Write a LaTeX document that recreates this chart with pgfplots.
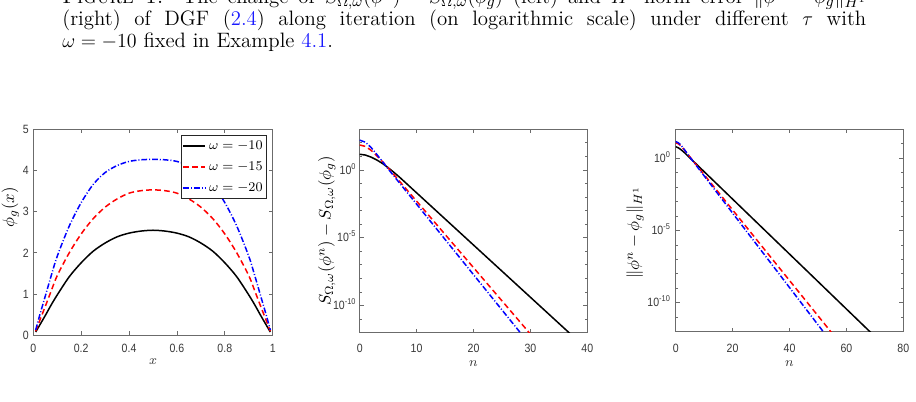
\documentclass[border=0pt]{standalone}
\usepackage{fontspec}
\usepackage{xcolor}
\usepackage{pgfplots}
\pgfplotsset{compat=1.18}
\newfontfamily\tickfont[FakeStretch=0.88]{Liberation Sans}
\definecolor{axgray}{gray}{0.42}
\definecolor{txtgray}{gray}{0.22}
\definecolor{linkblue}{rgb}{0.1,0.1,1}
\newcommand{\tp}[1]{10\textsuperscript{#1}}

\pgfplotsset{
  mstyle/.style={
    scale only axis,
    axis line style={axgray, line width=0.6pt},
    every tick/.style={axgray, line width=0.5pt},
    tick align=inside, tick pos=both,
    major tick length=2.4pt, minor tick length=1.6pt,
    tick label style={font=\tickfont\fontsize{7.2}{8}\selectfont, text=txtgray, inner sep=0pt},
    xticklabel style={anchor=center},
    yticklabel style={anchor=base east, yshift=-2.5pt},
    label style={text=txtgray, font=\fontsize{8.5}{10}\selectfont},
    every axis y label/.style={rotate=90, anchor=center},
  },
  lblack/.style={black, line width=0.9pt},
  lred/.style={red, line width=0.9pt, dash pattern=on 3.4pt off 2pt},
  lblue/.style={blue, line width=0.9pt, dash pattern=on 3.4pt off 1.2pt on 0.6pt off 1.2pt},
}

\begin{document}
\begin{tikzpicture}
\useasboundingbox (0,0) rectangle (549.6pt,241.2pt);

% caption lines above the figure
\node[anchor=base west, inner sep=0pt] at (37.2pt,239.3pt) {\parbox[t]{482.4pt}{\fontsize{12.5}{13.4}\selectfont
\textsc{Figure 1.} The change of $S_{\Omega,\omega}(\phi^n)-S_{\Omega,\omega}(\phi_g)$ (left) and $H^1$-norm error $\|\phi^n-\phi_g\|_{H^1}$\linebreak
(right) of DGF (\textcolor{linkblue}{2.4}) along iteration (on logarithmic scale) under different $\tau$ with\linebreak
$\omega=-10$ fixed in Example~\textcolor{linkblue}{4.1}.}};

% ground states
\begin{axis}[mstyle, at={(19.98pt,40.02pt)}, anchor=south west,
  width=143.64pt, height=123.6pt,
  xmin=0, xmax=1, ymin=0, ymax=5,
  xtick={0,0.2,0.4,0.6,0.8,1}, xticklabels={0,0.2,0.4,0.6,0.8,1},
  ytick={0,1,2,3,4,5}, yticklabels={0,1,2,3,4,5},
  xticklabel style={yshift=-7.6pt}, yticklabel style={xshift=-2.6pt},
  xlabel={$x$}, ylabel={$\phi_g(x)$},
  every axis x label/.append style={at={(axis description cs:0.5,-0.13)}, anchor=center},
  every axis y label/.append style={at={(axis description cs:-0.096,0.62)}},
  legend style={at={(0.977,0.972)}, anchor=north east, draw=black!85, fill=white,
    line width=0.5pt, font=\fontsize{8.5}{8.5}\selectfont, inner xsep=0.5pt, inner ysep=1pt,
    row sep=2pt, legend cell align=left},
  legend image code/.code={\draw[#1] (0pt,0pt) -- (13pt,0pt);},
]
\addplot[lblack, smooth, tension=0.5] coordinates {
(0.01,0.08)(0.025,0.23)(0.05,0.48)(0.075,0.74)(0.1,0.98)(0.15,1.42)(0.2,1.76)
(0.25,2.04)(0.3,2.24)(0.35,2.39)(0.4,2.48)(0.45,2.53)(0.5,2.55)(0.55,2.53)
(0.6,2.48)(0.65,2.39)(0.7,2.24)(0.75,2.04)(0.8,1.76)(0.85,1.42)(0.9,0.98)
(0.925,0.74)(0.95,0.48)(0.975,0.23)(0.99,0.08)};
\addplot[lred, smooth, tension=0.5] coordinates {
(0.01,0.10)(0.025,0.33)(0.05,0.70)(0.075,1.08)(0.1,1.45)(0.15,2.00)(0.2,2.46)
(0.25,2.83)(0.3,3.11)(0.35,3.31)(0.4,3.45)(0.45,3.51)(0.5,3.53)(0.55,3.51)
(0.6,3.45)(0.65,3.31)(0.7,3.11)(0.75,2.83)(0.8,2.46)(0.85,2.00)(0.9,1.45)
(0.925,1.08)(0.95,0.70)(0.975,0.33)(0.99,0.10)};
\addplot[lblue, smooth, tension=0.5] coordinates {
(0.01,0.13)(0.025,0.45)(0.05,0.95)(0.075,1.45)(0.1,1.92)(0.15,2.65)(0.2,3.22)
(0.25,3.66)(0.3,3.95)(0.35,4.12)(0.4,4.22)(0.45,4.26)(0.5,4.27)(0.55,4.26)
(0.6,4.22)(0.65,4.12)(0.7,3.95)(0.75,3.66)(0.8,3.22)(0.85,2.65)(0.9,1.92)
(0.925,1.45)(0.95,0.95)(0.975,0.45)(0.99,0.13)};
\legend{$\omega=-10$,$\omega=-15$,$\omega=-20$}
\end{axis}

% energy difference
\begin{axis}[mstyle, at={(215.82pt,41.58pt)}, anchor=south west,
  width=136.56pt, height=122.04pt,
  xmin=0, xmax=40, ymode=log, ymin=1e-12, ymax=1e3,
  xtick={0,10,20,30,40}, xticklabels={0,10,20,30,40},
  ytick={1e-10,1e-5,1}, yticklabels={\tp{-10},\tp{-5},\tp{0}},
  minor ytick={1e-12,1e-11,1e-9,1e-8,1e-7,1e-6,1e-4,1e-3,1e-2,1e-1,10,100,1000},
  xticklabel style={yshift=-9.2pt}, yticklabel style={xshift=-1.8pt},
  xlabel={$n$}, ylabel={$S_{\Omega,\omega}(\phi^n)-S_{\Omega,\omega}(\phi_g)$},
  every axis x label/.append style={at={(axis description cs:0.5,-0.154)}, anchor=center},
  every axis y label/.append style={at={(axis description cs:-0.145,0.5)}},
]
\addplot[lblack] coordinates {
(0,14.45)(1,12.59)(2,8.91)(3,5.50)(4,3.02)(5,1.479)(6,0.676)(7,0.295)
(12,3.51e-3)(17,4.17e-5)(22,4.95e-7)(27,5.89e-9)(32,7.0e-11)(37,8.3e-13)};
\addplot[lred] coordinates {
(0,69.2)(1,55.0)(2,28.2)(3,11.2)(4,4.17)(5,1.41)(6,0.457)
(10,5.01e-3)(15,1.78e-5)(20,6.31e-8)(25,2.24e-10)(30,7.94e-13)};
\addplot[lblue] coordinates {
(0,158.5)(1,112.2)(2,45.7)(3,14.1)(4,4.17)(5,1.20)(6,0.363)
(10,3.02e-3)(15,7.59e-6)(20,1.91e-8)(25,4.79e-11)(29,3.98e-13)};
\end{axis}

% H1 error
\begin{axis}[mstyle, at={(405.42pt,42.18pt)}, anchor=south west,
  width=136.56pt, height=121.44pt,
  xmin=0, xmax=80, ymode=log, ymin=1e-12, ymax=1e2,
  xtick={0,20,40,60,80}, xticklabels={0,20,40,60,80},
  ytick={1e-10,1e-5,1}, yticklabels={\tp{-10},\tp{-5},\tp{0}},
  minor ytick={1e-12,1e-11,1e-9,1e-8,1e-7,1e-6,1e-4,1e-3,1e-2,1e-1,10,100},
  xticklabel style={yshift=-9.8pt}, yticklabel style={xshift=-2.8pt},
  xlabel={$n$}, ylabel={$\|\phi^n-\phi_g\|_{H^1}$},
  every axis x label/.append style={at={(axis description cs:0.5,-0.16)}, anchor=center},
  every axis y label/.append style={at={(axis description cs:-0.179,0.49)}},
]
\addplot[lblack] coordinates {
(0,6.31)(1,5.13)(2,3.72)(3,2.51)(4,1.62)(5,1.047)(6,0.676)(7,0.437)
(17,5.5e-3)(27,6.92e-5)(37,8.71e-7)(47,1.10e-8)(57,1.38e-10)(67,1.74e-12)(70,4.68e-13)};
\addplot[lred] coordinates {
(0,12.0)(1,9.77)(2,6.61)(3,3.89)(4,2.19)(5,1.23)(6,0.692)
(16,2.51e-3)(26,9.12e-6)(36,3.31e-8)(46,1.20e-10)(56,4.37e-13)};
\addplot[lblue] coordinates {
(0,14.45)(1,11.5)(2,7.41)(3,4.07)(4,2.19)(5,1.175)(6,0.646)
(16,1.72e-3)(26,4.57e-6)(36,1.22e-8)(46,3.24e-11)(53,5.13e-13)};
\end{axis}
\end{tikzpicture}
\end{document}
